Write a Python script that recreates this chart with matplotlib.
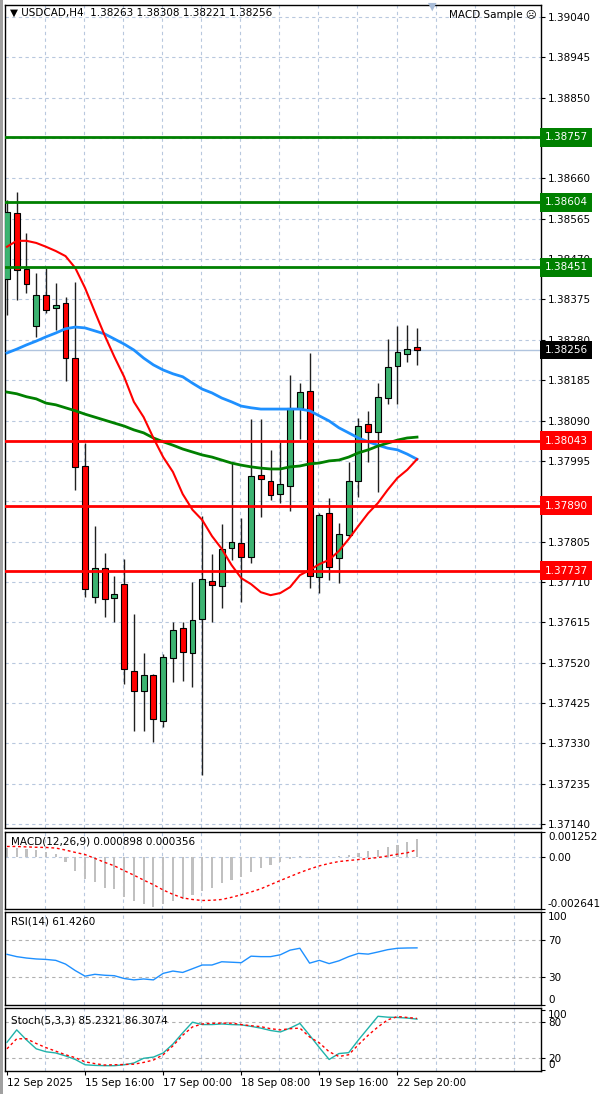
import numpy as np
import matplotlib
matplotlib.use("Agg")
import matplotlib.pyplot as plt
from matplotlib.patches import Rectangle
import matplotlib.transforms as mtransforms

plt.rcParams['font.family'] = ['DejaVu Sans']

# USDCAD H4 candles
opens = [1.38423, 1.38579, 1.38447, 1.38313, 1.38386, 1.38355, 1.38367, 1.38237, 1.37983, 1.37675,
         1.37743, 1.37672, 1.37705, 1.37501, 1.37453, 1.37491, 1.37383, 1.37531, 1.37602, 1.37543,
         1.37623, 1.37712, 1.37701, 1.37790, 1.37802, 1.37769, 1.37962, 1.37948, 1.37917, 1.37936,
         1.38120, 1.38160, 1.37722, 1.37872, 1.37766, 1.37821, 1.37948, 1.38082, 1.38063, 1.38143,
         1.38218, 1.38247, 1.38263]
highs = [1.38609, 1.38628, 1.38532, 1.38437, 1.38449, 1.38414, 1.38381, 1.38416, 1.38037, 1.37842,
         1.37778, 1.37724, 1.37764, 1.37635, 1.37543, 1.37494, 1.37541, 1.37616, 1.37616, 1.37710,
         1.37865, 1.37776, 1.37847, 1.37990, 1.37861, 1.38094, 1.38094, 1.38021, 1.38040, 1.38197,
         1.38178, 1.38249, 1.37872, 1.37908, 1.37849, 1.37992, 1.38096, 1.38113, 1.38178, 1.38282,
         1.38313, 1.38315, 1.38308]
lows = [1.38339, 1.38374, 1.38390, 1.38287, 1.38343, 1.38303, 1.38183, 1.37927, 1.37675, 1.37661,
        1.37628, 1.37616, 1.37470, 1.37359, 1.37359, 1.37333, 1.37369, 1.37475, 1.37477, 1.37463,
        1.37256, 1.37615, 1.37649, 1.37762, 1.37663, 1.37755, 1.37863, 1.37903, 1.37896, 1.37877,
        1.38047, 1.37696, 1.37684, 1.37715, 1.37708, 1.37816, 1.37910, 1.37992, 1.37922, 1.38129,
        1.38129, 1.38228, 1.38221]
closes = [1.38581, 1.38444, 1.38412, 1.38386, 1.38350, 1.38362, 1.38237, 1.37981, 1.37694, 1.37743,
          1.37670, 1.37682, 1.37505, 1.37453, 1.37491, 1.37388, 1.37533, 1.37597, 1.37545, 1.37621,
          1.37717, 1.37703, 1.37788, 1.37804, 1.37769, 1.37960, 1.37952, 1.37915, 1.37941, 1.38120,
          1.38157, 1.37724, 1.37868, 1.37745, 1.37823, 1.37948, 1.38077, 1.38063, 1.38145, 1.38216,
          1.38251, 1.38258, 1.38256]

# moving averages
ma_red = [1.38499, 1.38513, 1.38513, 1.38508, 1.38499, 1.38489, 1.38477, 1.38449, 1.38402, 1.38346,
          1.38291, 1.38240, 1.38193, 1.38134, 1.38098, 1.38049, 1.38004, 1.37969, 1.37917, 1.37880,
          1.37856, 1.37818, 1.37788, 1.37750, 1.37719, 1.37705, 1.37686, 1.37679, 1.37684, 1.37698,
          1.37726, 1.37738, 1.37752, 1.37762, 1.37783, 1.37811, 1.37842, 1.37872, 1.37896, 1.37927,
          1.37955, 1.37974, 1.37999]
ma_blue = [1.38249, 1.38258, 1.38268, 1.38277, 1.38287, 1.38296, 1.38306, 1.38310, 1.38308, 1.38301,
           1.38294, 1.38282, 1.38270, 1.38256, 1.38237, 1.38221, 1.38209, 1.38200, 1.38193, 1.38178,
           1.38164, 1.38155, 1.38143, 1.38134, 1.38124, 1.38120, 1.38117, 1.38117, 1.38117, 1.38117,
           1.38117, 1.38113, 1.38101, 1.38089, 1.38073, 1.38061, 1.38049, 1.38040, 1.38032, 1.38025,
           1.38021, 1.38011, 1.37999]
ma_green = [1.38157, 1.38153, 1.38146, 1.38141, 1.38131, 1.38127, 1.38120, 1.38113, 1.38105, 1.38098,
            1.38091, 1.38084, 1.38077, 1.38068, 1.38061, 1.38049, 1.38040, 1.38032, 1.38023, 1.38016,
            1.38009, 1.38004, 1.37997, 1.37990, 1.37985, 1.37981, 1.37978, 1.37976, 1.37976, 1.37981,
            1.37983, 1.37988, 1.37990, 1.37995, 1.37997, 1.38004, 1.38014, 1.38021, 1.38030, 1.38037,
            1.38044, 1.38049, 1.38051]

levels_green = [1.38757, 1.38604, 1.38451]
levels_red = [1.38043, 1.37890, 1.37737]
last_price = 1.38256

# indicators
macd_main = [0.00045, 0.00045, 0.00040, 0.00035, 0.00025, 0.00012, -0.00028, -0.00070, -0.00110, -0.00130,
             -0.00158, -0.00165, -0.00205, -0.00222, -0.00238, -0.00252, -0.00240, -0.00225, -0.00212, -0.00195,
             -0.00175, -0.00158, -0.00135, -0.00118, -0.00100, -0.00075, -0.00055, -0.00040, -0.00028, -0.00010,
             0.00005, -0.00008, -0.00005, -0.00003, 0.00002, 0.00010, 0.00020, 0.00028, 0.00035, 0.00048,
             0.00062, 0.00076, 0.000898]
macd_signal = [0.00052, 0.00052, 0.00050, 0.00048, 0.00047, 0.00044, 0.00034, 0.00022, 0.00011, -0.00008,
               -0.00028, -0.00046, -0.00070, -0.00093, -0.00118, -0.00141, -0.00168, -0.00190, -0.00208, -0.00216,
               -0.00221, -0.00220, -0.00216, -0.00205, -0.00192, -0.00178, -0.00162, -0.00141, -0.00120, -0.00100,
               -0.00080, -0.00062, -0.00046, -0.00034, -0.00024, -0.00019, -0.00014, -0.00009, -0.00004, 0.00004,
               0.00013, 0.00020, 0.000356]
rsi = [54.5, 52, 50.5, 49.5, 49, 48, 44, 37, 31, 33,
       32, 31.5, 28.5, 27, 28, 27, 34, 36.5, 35, 39,
       43, 43, 46.5, 46, 45.5, 52.5, 52, 52, 54, 59,
       61, 45, 48, 44.5, 47.5, 52, 55.5, 54.7, 57, 59.5,
       61, 61.3, 61.426]
stoch_k = [46, 67, 50, 35, 30, 28, 23, 17, 8, 7,
           6.5, 6.5, 8, 11, 19, 21, 28, 43, 62, 80,
           76, 76, 77, 76, 75.5, 73, 70, 66, 63.5, 70,
           78, 58, 37, 17, 27, 28.5, 50, 70, 90, 88.5,
           88, 87, 85.23]
stoch_d = [35, 52, 52, 44, 37, 31, 25, 20, 13, 10,
           7.6, 8, 8.5, 9, 12, 16, 25, 40, 58, 72,
           77, 78, 78.4, 78.4, 76, 74, 72.5, 69, 67, 69,
           70, 55, 45, 30, 22, 25, 42, 58, 72, 84,
           89.5, 88, 86.31]

time_labels = ['12 Sep 2025', '15 Sep 16:00', '17 Sep 00:00', '18 Sep 08:00', '19 Sep 16:00', '22 Sep 20:00']
time_pos = [0, 8, 16, 24, 32, 40]

W, H = 600, 1094
fig = plt.figure(figsize=(W / 100, H / 100), dpi=100)
fig.patch.set_facecolor('white')

def box(top, bottom):
    return [5 / W, 1 - bottom / H, 536 / W, (bottom - top) / H]

ax = fig.add_axes(box(5, 828))
ax_macd = fig.add_axes(box(832, 909))
ax_rsi = fig.add_axes(box(912, 1005))
ax_sto = fig.add_axes(box(1008, 1071))

idx = np.arange(len(opens))
grid_col = '#b8c8de'
xlim = (-0.2, 54.7)

for a in (ax, ax_macd, ax_rsi, ax_sto):
    a.set_xlim(*xlim)
    for s in a.spines.values():
        s.set_color('black')
        s.set_linewidth(1)
    a.yaxis.tick_right()
    a.tick_params(axis='y', direction='out', length=3, labelsize=7.5, pad=2, colors='black')
    a.tick_params(axis='x', bottom=False, labelbottom=False)
    for gx in range(4, 55, 4):
        a.axvline(gx - 0.1, color=grid_col, lw=0.8, ls=(0, (3, 3)), zorder=0)

# main price chart
ax.set_ylim(1.37131, 1.39068)
yt = np.round(1.37140 + 0.00095 * np.arange(21), 5)
ax.set_yticks(yt)
ax.set_yticklabels([f'{v:.5f}' for v in yt])
for v in yt:
    ax.axhline(v, color=grid_col, lw=0.8, ls=(0, (3, 3)), zorder=0)

ax.axhline(last_price, color='#b0c4de', lw=1, zorder=1)

for i in idx:
    o, h, l, c = opens[i], highs[i], lows[i], closes[i]
    ax.vlines(i, l, h, color='#202020', lw=1, zorder=2)
    col = '#3cb371' if c >= o else '#ff0000'
    bh = max(abs(c - o), 0.00004)
    ax.add_patch(Rectangle((i - 0.3, min(o, c)), 0.6, bh, facecolor=col,
                           edgecolor='black', lw=0.8, zorder=3))

ax.plot(idx, ma_blue, color='#1e90ff', lw=2, zorder=4)
ax.plot(idx, ma_green, color='#008000', lw=2, zorder=4)
ax.plot(idx, ma_red, color='#ff0000', lw=1.5, zorder=4)

trans = mtransforms.blended_transform_factory(ax.transAxes, ax.transData)

def price_tag(y, fc):
    ax.text(1.007, y, f'{y:.5f}', transform=trans, va='center', ha='left', fontsize=7.5,
            color='white', clip_on=False, zorder=6,
            bbox=dict(boxstyle='square,pad=0.42', fc=fc, ec='none'))

for lv in levels_green:
    ax.axhline(lv, color='#008000', lw=2, zorder=5)
    price_tag(lv, '#008000')
for lv in levels_red:
    ax.axhline(lv, color='#ff0000', lw=2, zorder=5)
    price_tag(lv, '#ff0000')
price_tag(last_price, 'black')

fig.text(10 / W, 1 - 13 / H, '\u25bc USDCAD,H4  1.38263 1.38308 1.38221 1.38256',
         fontsize=7.5, va='center', ha='left')
fig.text(537 / W, 1 - 15 / H, 'MACD Sample \u2639', fontsize=7.5, va='center', ha='right')
fig.text(432 / W, 1 - 7 / H, '\u25bc', fontsize=8, color='#a8bcd8', va='center', ha='center')

# MACD
ax_macd.set_ylim(-0.002641, 0.001252)
ax_macd.bar(idx, macd_main, width=0.22, color='#c0c0c0', zorder=2)
ax_macd.plot(idx, macd_signal, color='#ff0000', lw=1, ls=(0, (2, 2)), zorder=3)
ax_macd.axhline(0, color=grid_col, lw=0.8, ls=(0, (3, 3)), zorder=0)
ax_macd.set_yticks([0.001252, 0.0, -0.002641])
ax_macd.set_yticklabels(['0.001252', '0.00', '-0.002641'])
ax_macd.text(0.012, 0.88, 'MACD(12,26,9) 0.000898 0.000356', transform=ax_macd.transAxes,
             fontsize=7.5, va='center', ha='left')

# RSI
ax_rsi.set_ylim(0, 100)
for lv in (70, 30):
    ax_rsi.axhline(lv, color='#b0b0b0', lw=0.8, ls=(0, (3, 3)), zorder=0)
ax_rsi.plot(idx, rsi, color='#1e90ff', lw=1, zorder=3)
ax_rsi.set_yticks([100, 70, 30, 0])
ax_rsi.set_yticklabels(['100', '70', '30', '0'])
ax_rsi.text(0.012, 0.9, 'RSI(14) 61.4260', transform=ax_rsi.transAxes,
            fontsize=7.5, va='center', ha='left')

# Stochastic
ax_sto.set_ylim(-2.5, 104)
for lv in (80, 20):
    ax_sto.axhline(lv, color='#b0b0b0', lw=0.8, ls=(0, (3, 3)), zorder=0)
ax_sto.plot(idx, stoch_k, color='#20b2aa', lw=1, zorder=3)
ax_sto.plot(idx, stoch_d, color='#ff0000', lw=1, ls=(0, (2, 2)), zorder=3)
ax_sto.set_yticks([100, 80, 20, 0])
ax_sto.set_yticklabels(['100', '80', '20', '0'])
ax_sto.text(0.012, 0.8, 'Stoch(5,3,3) 85.2321 86.3074', transform=ax_sto.transAxes,
            fontsize=7.5, va='center', ha='left')
ax_sto.set_xticks(time_pos)
ax_sto.set_xticklabels(time_labels)
ax_sto.tick_params(axis='x', bottom=True, labelbottom=True, direction='out', length=3,
                   labelsize=7.5, pad=2)
for t in ax_sto.get_xticklabels():
    t.set_ha('left')

for a in (ax_macd, ax_rsi, ax_sto):
    labs = a.get_yticklabels()
    labs[0].set_va('top')
    labs[-1].set_va('bottom')

# window frame on the left
fig.add_artist(Rectangle((0, 0), 3 / W, 1, transform=fig.transFigure, fc='#a0a0a0', ec='none'))

fig.savefig('out.png', dpi=100)
